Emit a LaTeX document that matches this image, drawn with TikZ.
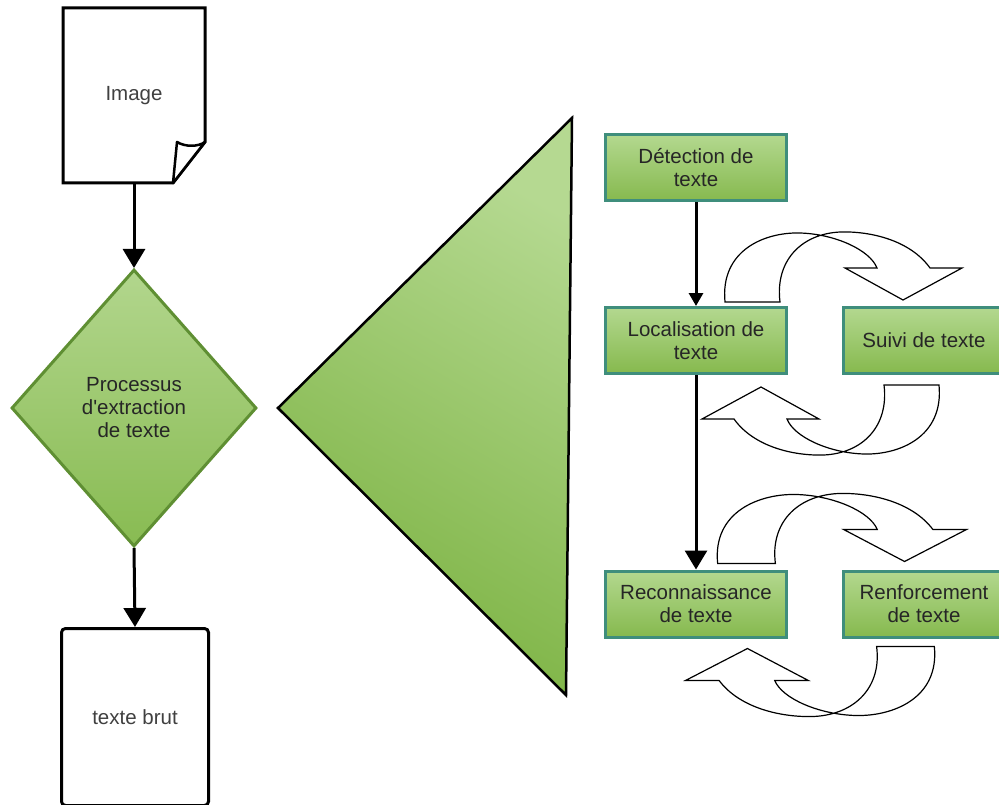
\documentclass[tikz,border=0pt]{standalone}
\usepackage{fontspec}
\setmainfont{Liberation Sans}
\usetikzlibrary{arrows.meta,shapes.geometric}
\definecolor{gtop}{HTML}{B3D88F}
\definecolor{gbot}{HTML}{86B94E}
\definecolor{gedge}{HTML}{3F8E7C}
\definecolor{dtop}{HTML}{B2D68D}
\definecolor{dbot}{HTML}{88BB52}
\definecolor{dedge}{HTML}{5F8F33}
\definecolor{ttop}{HTML}{B5D991}
\definecolor{tbot}{HTML}{7BB241}
\definecolor{txt}{HTML}{262626}
\definecolor{doctxt}{HTML}{404040}
\tikzset{
  cycarrow/.pic={
    \filldraw[fill=white, draw=black, line width=1.2pt]
      (-107,-41.5) .. controls (-112,-93.5) and (-67,-111.5) .. (-32,-110.5)
      .. controls (3,-109.5) and (38,-93.5) .. (45,-75.5)
      -- (13,-75.5) -- (71,-43.5) -- (130,-75.5) -- (98,-75.5)
      .. controls (78,-103.5) and (38,-112.5) .. (8,-111.5)
      .. controls (-32,-109.5) and (-57,-81.5) .. (-52,-41.5) -- cycle;
  }
}
\begin{document}
\begin{tikzpicture}[x=1pt,y=-1pt,
  every node/.style={font=\fontsize{20.5}{23}\selectfont},
  gbox/.style={rectangle, draw=gedge, line width=3pt, top color=gtop, bottom color=gbot,
    minimum width=181pt, minimum height=66pt, inner sep=2pt, align=center, text=txt},
  bigarr/.style={line width=3pt, -{Triangle[width=22pt,length=19pt]}},
  smallarr/.style={line width=3pt, -{Triangle[width=14pt,length=13pt]}},
  docline/.style={line width=3pt, line join=miter}
]
\useasboundingbox (0,0) rectangle (999,805);

% left column
\draw[docline, fill=white] (63,8) -- (205,8) -- (205,142) -- (173,183) -- (63,183) -- cycle;
\draw[line width=2.5pt, fill=white, line join=round] (177,142) .. controls (185,147) and (198,147) .. (205,142) -- (173,183) -- cycle;
\node[minimum width=142pt, minimum height=175pt, text=doctxt] (img) at (134,95.5) {Image};

\node[diamond, draw=dedge, line width=3pt, top color=dtop, bottom color=dbot,
  minimum width=245pt, minimum height=277pt, inner sep=0pt, align=center, text=txt]
  (proc) at (134,408) {Processus\\d\textquotesingle extraction\\de texte};

\node[draw, line width=3pt, rounded corners=4pt, minimum width=147pt, minimum height=177pt,
  text=doctxt, fill=white] (brut) at (135,717) {texte brut};

\draw[bigarr] (img.south) -- (proc.north);
\draw[bigarr] (proc.south) -- (brut.north);

% triangle
\path[draw=black, line width=2.5pt, line join=miter, top color=ttop, bottom color=tbot, shading angle=-30]
  (572,118) -- (566,695) -- (278,408) -- cycle;

% cycle arrows
\pic at (832,343.5) {cycarrow};
\pic[rotate=180] at (832,343.5) {cycarrow};
\pic[xscale=1.05] at (830,605) {cycarrow};
\pic[rotate=180, xscale=1.05] at (822,605) {cycarrow};

% right column
\node[gbox] (det) at (696,168) {Détection de\\texte};
\node[gbox] (loc) at (696,340.5) {Localisation de\\texte};
\node[gbox, minimum width=161pt] (suivi) at (924,340.5) {Suivi de texte};
\node[gbox] (reco) at (696,604) {Reconnaissance\\de texte};
\node[gbox, minimum width=161pt] (renf) at (924,604) {Renforcement\\de texte};

\draw[smallarr] (det.south) -- (loc.north);
\draw[bigarr] (loc.south) -- (reco.north);
\end{tikzpicture}
\end{document}
